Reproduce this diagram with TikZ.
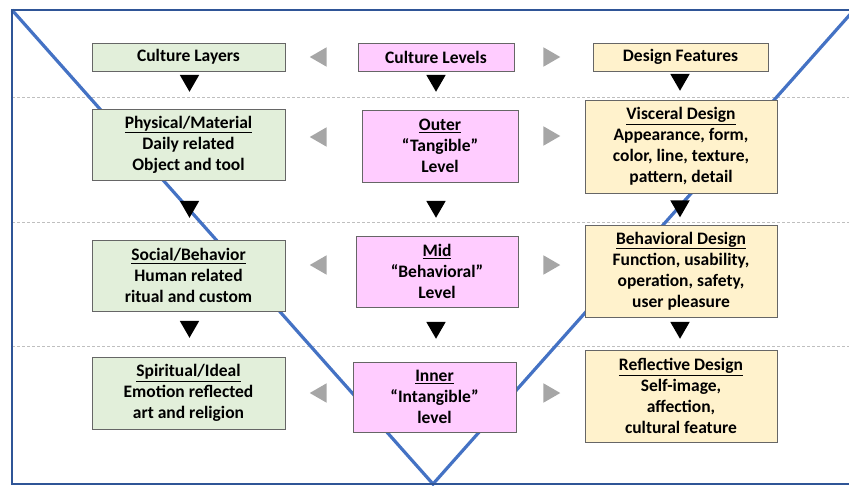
\documentclass[tikz,border=0pt]{standalone}
\usepackage{fontspec}
\setmainfont{Carlito}
\usepackage{tikz}
\usetikzlibrary{shapes.geometric, positioning, calc}
\definecolor{layergreen}{HTML}{E2EFDA}
\definecolor{levelpink}{HTML}{FFCCFF}
\definecolor{featureyellow}{HTML}{FFF2CC}
\definecolor{vblue}{HTML}{4472C4}
\definecolor{frameblue}{HTML}{2F5597}

\begin{document}
\begin{tikzpicture}[x=1pt, y=-1pt, font=\fontsize{17.5}{21}\selectfont\bfseries]
        \tikzstyle{culturebox} = [draw=black!60, line width=1pt, rectangle, inner sep=2pt, align=center]
        \tikzstyle{layerbox} = [culturebox, fill=layergreen, minimum width=193pt]
        \tikzstyle{levelbox} = [culturebox, fill=levelpink]
        \tikzstyle{featurebox} = [culturebox, fill=featureyellow, minimum width=192pt]
        \tikzstyle{tri} = [regular polygon, regular polygon sides=3, minimum size=22.5pt, inner sep=0pt]
        \tikzstyle{downtri} = [tri, fill=black, shape border rotate=180]
        \tikzstyle{lefttri} = [tri, fill=black!35, shape border rotate=90]
        \tikzstyle{righttri} = [tri, fill=black!35, shape border rotate=-90]
        \tikzstyle{rowline} = [draw=black!25, line width=1pt, dash pattern=on 3pt off 2pt]

        \useasboundingbox (0,0) rectangle (849,485);
        \clip (0,0) rectangle (849,485);

        \draw[rowline] (12,97) -- (849,97);
        \draw[rowline] (12,222) -- (849,222);
        \draw[rowline] (12,346) -- (849,346);

        \coordinate (vleft) at (12,10);
        \coordinate (vtip) at (433,484);
        \coordinate (vright) at (854,10);
        \draw[vblue, line width=3.2pt] (vleft) -- (vtip) -- (vright);
        \draw[frameblue, line width=2.2pt] (870,484) -- (12,484) -- (12,10) -- (870,10);

        \node[layerbox, minimum height=28pt] (layers) at (188.5,57) {Culture Layers};
        \node[layerbox, minimum height=71pt] (physical) at (188.5,144.5) {\underline{Physical/Material}\\Daily related\\Object and tool};
        \node[layerbox, minimum height=71pt] (social) at (188.5,275.5) {\underline{Social/Behavior}\\Human related\\ritual and custom};
        \node[layerbox, minimum height=72pt] (spiritual) at (188.5,393) {\underline{Spiritual/Ideal}\\Emotion reflected\\art and religion};

        \node[levelbox, minimum width=156pt, minimum height=28pt] (levels) at (436,57) {Culture Levels};
        \node[levelbox, minimum width=156pt, minimum height=72pt] (outer) at (440,146) {\underline{Outer}\\“Tangible”\\Level};
        \node[levelbox, minimum width=162pt, minimum height=71pt] (mid) at (437,271.5) {\underline{Mid}\\“Behavioral”\\Level};
        \node[levelbox, minimum width=163pt, minimum height=70pt] (inner) at (434.5,397) {\underline{Inner}\\“Intangible”\\level};

        \node[featurebox, minimum width=175pt, minimum height=28pt] (features) at (680.5,57) {Design Features};
        \node[featurebox, minimum height=93pt] (visceral) at (681,146.5) {\underline{Visceral Design}\\Appearance, form,\\color, line, texture,\\pattern, detail};
        \node[featurebox, minimum height=92pt] (behavioral) at (681,271) {\underline{Behavioral Design}\\Function, usability,\\operation, safety,\\user pleasure};
        \node[featurebox, minimum height=92pt] (reflective) at (681,396) {\underline{Reflective Design}\\Self-image,\\affection,\\cultural feature};

        \node[downtri] (d11) at (189.5,80.5) {};
        \node[downtri] (d12) at (189.5,206.5) {};
        \node[downtri] (d13) at (189.5,326.5) {};
        \node[downtri] (d21) at (436,80.5) {};
        \node[downtri] (d22) at (436,206.5) {};
        \node[downtri] (d23) at (436,327.5) {};
        \node[downtri] (d31) at (680,79.5) {};
        \node[downtri] (d32) at (680,206) {};
        \node[downtri] (d33) at (680,327.5) {};

        \node[lefttri] (l1) at (321,57) {};
        \node[lefttri] (l2) at (321,137) {};
        \node[lefttri] (l3) at (321,265) {};
        \node[lefttri] (l4) at (321,393) {};
        \node[righttri] (r1) at (549,57) {};
        \node[righttri] (r2) at (549,136) {};
        \node[righttri] (r3) at (549,265) {};
        \node[righttri] (r4) at (549,393) {};
    \end{tikzpicture}
\end{document}
